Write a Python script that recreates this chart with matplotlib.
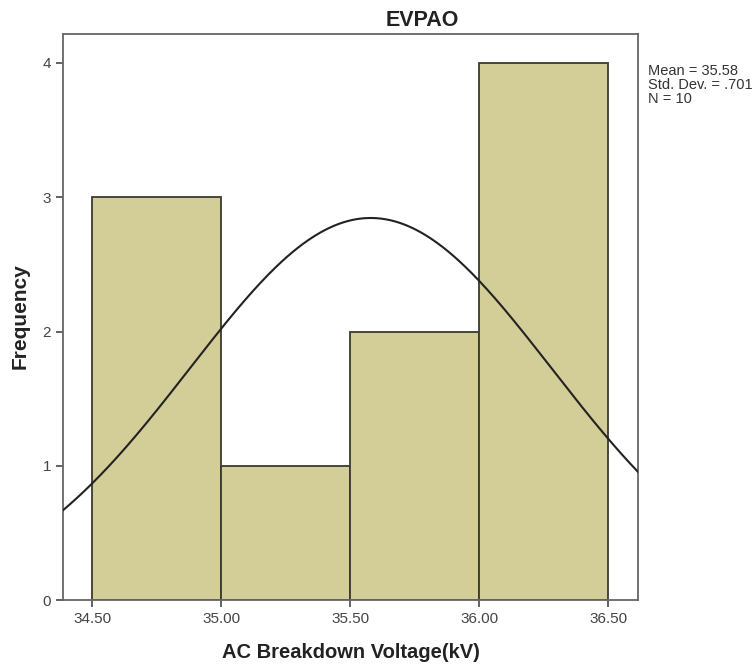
import numpy as np
import matplotlib as mpl
import matplotlib.pyplot as plt
mpl.use('agg')

# histogram of breakdown voltage
binEdges = [34.50, 35.00, 35.50, 36.00, 36.50]
counts = [3, 1, 2, 4]
meanV = 35.58
stdV = 0.701
nV = 10
xTicks = [34.50, 35.00, 35.50, 36.00, 36.50]
yTicks = [0, 1, 2, 3, 4]

plt.rcParams['font.family'] = ['Liberation Sans', 'DejaVu Sans']

dpi = 100
fig = plt.figure(dpi=dpi, figsize=(756 / dpi, 666 / dpi))
ax = fig.add_axes([0.0833, 0.099, 0.7606, 0.850])

widths = np.diff(binEdges)
ax.bar(binEdges[:-1], counts, width=widths, align='edge',
       color='#D3CE97', edgecolor='#3a3a30', linewidth=1.3, zorder=2)

# normal curve scaled to counts
xmin, xmax = 34.387, 36.616
xs = np.linspace(xmin, xmax, 400)
binW = binEdges[1] - binEdges[0]
ys = nV * binW / (stdV * np.sqrt(2 * np.pi)) * np.exp(-0.5 * ((xs - meanV) / stdV) ** 2)
ax.plot(xs, ys, color='#222222', linewidth=1.5, zorder=3)

ax.set_xlim(xmin, xmax)
ax.set_ylim(0, 4.216)
ax.set_xticks(xTicks)
ax.set_xticklabels([f'{v:.2f}' for v in xTicks])
ax.set_yticks(yTicks)
ax.tick_params(direction='out', length=5, width=1.3, colors='#555555',
               labelcolor='#444444', labelsize=11)
for s in ax.spines.values():
    s.set_color('#666666')
    s.set_linewidth(1.3)

fig.text(422 / 756, 1 - 20 / 666, 'EVPAO', fontsize=15.5, fontweight='bold',
         color='#222222', ha='center', va='center')
ax.set_xlabel('AC Breakdown Voltage(kV)', fontsize=14.5, fontweight='bold',
              color='#222222', labelpad=12)
fig.text(20 / 756, 1 - 316 / 666, 'Frequency', fontsize=15, fontweight='bold',
         color='#222222', rotation=90, ha='center', va='center')

fig.text(648 / 756, 1 - 64 / 666,
         f'Mean = {meanV:.2f}\nStd. Dev. = {str(stdV)[1:]}\nN = {nV}',
         fontsize=10.5, color='#333333', va='top', ha='left', linespacing=1.0)

plt.savefig('out.png', dpi=dpi)
